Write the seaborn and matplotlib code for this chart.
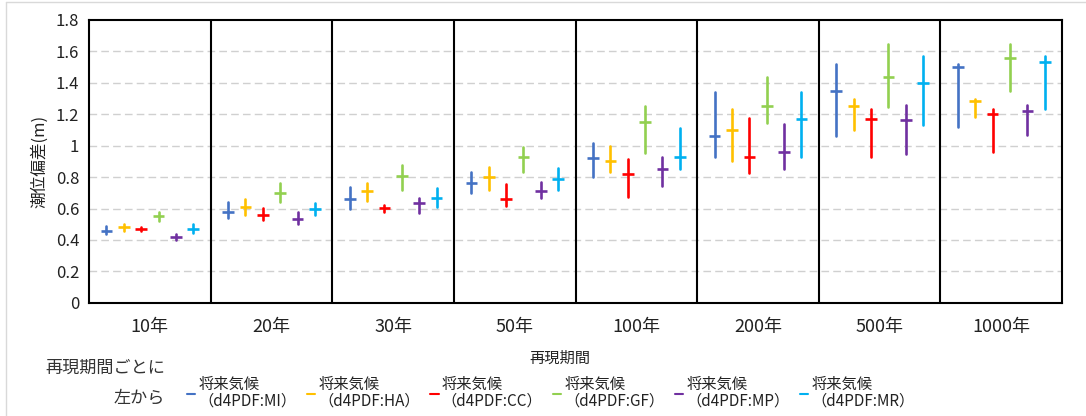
import numpy as np
import pandas as pd
import seaborn as sns
import matplotlib
matplotlib.use("Agg")
import matplotlib.pyplot as plt
from matplotlib.lines import Line2D

# Return periods (x categories) and model names
periods = ["10年", "20年", "30年", "50年", "100年", "200年", "500年", "1000年"]
models = ["MI", "HA", "CC", "GF", "MP", "MR"]
colors = ["#4472C4", "#FFC000", "#FF0000", "#92D050", "#7030A0", "#00B0F0"]

# Storm surge anomaly (m): central estimate and low/high range per model
mid_MI = [0.46, 0.58, 0.66, 0.76, 0.92, 1.06, 1.35, 1.50]
low_MI = [0.44, 0.54, 0.60, 0.70, 0.80, 0.93, 1.06, 1.12]
high_MI = [0.49, 0.64, 0.74, 0.83, 1.02, 1.34, 1.52, 1.52]

mid_HA = [0.48, 0.61, 0.71, 0.80, 0.905, 1.10, 1.25, 1.285]
low_HA = [0.46, 0.56, 0.645, 0.72, 0.835, 0.90, 1.10, 1.185]
high_HA = [0.50, 0.66, 0.765, 0.865, 1.00, 1.235, 1.30, 1.30]

mid_CC = [0.47, 0.56, 0.605, 0.66, 0.82, 0.93, 1.17, 1.20]
low_CC = [0.46, 0.525, 0.575, 0.615, 0.675, 0.825, 0.925, 0.96]
high_CC = [0.485, 0.605, 0.62, 0.755, 0.915, 1.175, 1.235, 1.235]

mid_GF = [0.55, 0.70, 0.81, 0.93, 1.15, 1.25, 1.44, 1.56]
low_GF = [0.52, 0.64, 0.72, 0.835, 0.955, 1.145, 1.245, 1.345]
high_GF = [0.58, 0.765, 0.88, 0.99, 1.255, 1.435, 1.645, 1.645]

mid_MP = [0.42, 0.535, 0.635, 0.71, 0.85, 0.96, 1.165, 1.22]
low_MP = [0.40, 0.50, 0.57, 0.67, 0.745, 0.85, 0.95, 1.07]
high_MP = [0.435, 0.58, 0.67, 0.77, 0.93, 1.135, 1.26, 1.26]

mid_MR = [0.47, 0.595, 0.665, 0.785, 0.93, 1.17, 1.40, 1.53]
low_MR = [0.445, 0.56, 0.61, 0.72, 0.85, 0.93, 1.13, 1.235]
high_MR = [0.50, 0.635, 0.73, 0.86, 1.11, 1.34, 1.57, 1.57]

yticks = [0, 0.2, 0.4, 0.6, 0.8, 1.0, 1.2, 1.4, 1.6, 1.8]
ytick_labels = ["0", "0.2", "0.4", "0.6", "0.8", "1", "1.2", "1.4", "1.6", "1.8"]

series = {
    "MI": (low_MI, mid_MI, high_MI),
    "HA": (low_HA, mid_HA, high_HA),
    "CC": (low_CC, mid_CC, high_CC),
    "GF": (low_GF, mid_GF, high_GF),
    "MP": (low_MP, mid_MP, high_MP),
    "MR": (low_MR, mid_MR, high_MR),
}

# Long-form tables: one row per range end, one row per central value
n_slots = len(models) + 1
seg_rows, mid_rows = [], []
for k, m in enumerate(models):
    lo, md, hi = series[m]
    for i in range(len(periods)):
        x = i - 0.5 + (k + 1) / n_slots
        seg = f"{m}-{i}"
        seg_rows.append({"model": m, "x": x, "y": lo[i], "seg": seg})
        seg_rows.append({"model": m, "x": x, "y": hi[i], "seg": seg})
        mid_rows.append({"model": m, "x": x, "y": md[i]})
seg_df = pd.DataFrame(seg_rows)
mid_df = pd.DataFrame(mid_rows)
palette = dict(zip(models, colors))

sns.set_style("white")
plt.rcParams["font.family"] = ["Noto Sans CJK JP", "DejaVu Sans"]

fig = plt.figure(figsize=(10.86, 4.16), dpi=100)
ax = fig.add_axes([0.082, 0.272, 0.896, 0.68])

# dashed horizontal gridlines
for yv in yticks[1:-1]:
    ax.axhline(yv, color="#d0d0d0", lw=1.0, ls=(0, (5.5, 3)), zorder=0)

# group separators
for b in np.arange(0.5, len(periods) - 0.5, 1.0):
    ax.axvline(b, color="black", lw=1.5, zorder=1)

sns.lineplot(data=seg_df, x="x", y="y", hue="model", units="seg",
             estimator=None, sort=False, palette=palette, lw=1.9,
             legend=False, ax=ax, zorder=3)
sns.scatterplot(data=mid_df, x="x", y="y", hue="model", palette=palette,
                marker="_", s=70, linewidth=1.9, legend=False, ax=ax,
                zorder=4)

ax.set_xlim(-0.5, len(periods) - 0.5)
ax.set_ylim(0, 1.8)
ax.set_yticks(yticks)
ax.set_yticklabels(ytick_labels, fontsize=12, color="#222222")
ax.set_xticks(np.arange(-0.5, len(periods), 1.0))
ax.set_xticklabels([])
ax.set_xticks(np.arange(len(periods)), minor=True)
ax.set_xticklabels(periods, minor=True, fontsize=13, color="#222222")
ax.tick_params(axis="x", which="major", length=5, width=1.2, direction="out")
ax.tick_params(axis="x", which="minor", length=0, pad=11)
ax.tick_params(axis="y", length=5, width=1.2, direction="out", pad=2)
for s in ax.spines.values():
    s.set_color("black")
    s.set_linewidth(1.5)

ax.set_ylabel("潮位偏差(m)", fontsize=12, color="#222222")
ax.yaxis.set_label_coords(-0.042, 0.5)
ax.set_xlabel("再現期間", fontsize=11, color="#222222")
ax.xaxis.set_label_coords(0.484, -0.165)

# legend beneath the axis
handles = [Line2D([], [], color=c, lw=1.5) for c in colors]
labels = [f"将来気候\n（d4PDF:{m}）" for m in models]
leg = fig.legend(handles, labels, loc="upper left",
                 bbox_to_anchor=(0.172, 1 - 376 / 416),
                 ncol=6, frameon=False, fontsize=11, handlelength=0.55,
                 handletextpad=0.2, columnspacing=0.68, borderaxespad=0,
                 borderpad=0, labelcolor="#222222")
for t in leg.get_texts():
    t.set_linespacing(1.0)

fig.text(0.152, 1 - 368 / 416, "再現期間ごとに", ha="right", va="center",
         fontsize=12.3, color="#333333")
fig.text(0.152, 1 - 398 / 416, "左から", ha="right", va="center",
         fontsize=12.3, color="#333333")

# light frame around the chart area
fig.add_artist(Line2D([6 / 1086, 6 / 1086], [0.0, 1 - 2 / 416],
                      transform=fig.transFigure, color="#d9d9d9", lw=1))
fig.add_artist(Line2D([6 / 1086, 1.0], [1 - 2 / 416, 1 - 2 / 416],
                      transform=fig.transFigure, color="#d9d9d9", lw=1))

fig.savefig("out.png", dpi=100)
